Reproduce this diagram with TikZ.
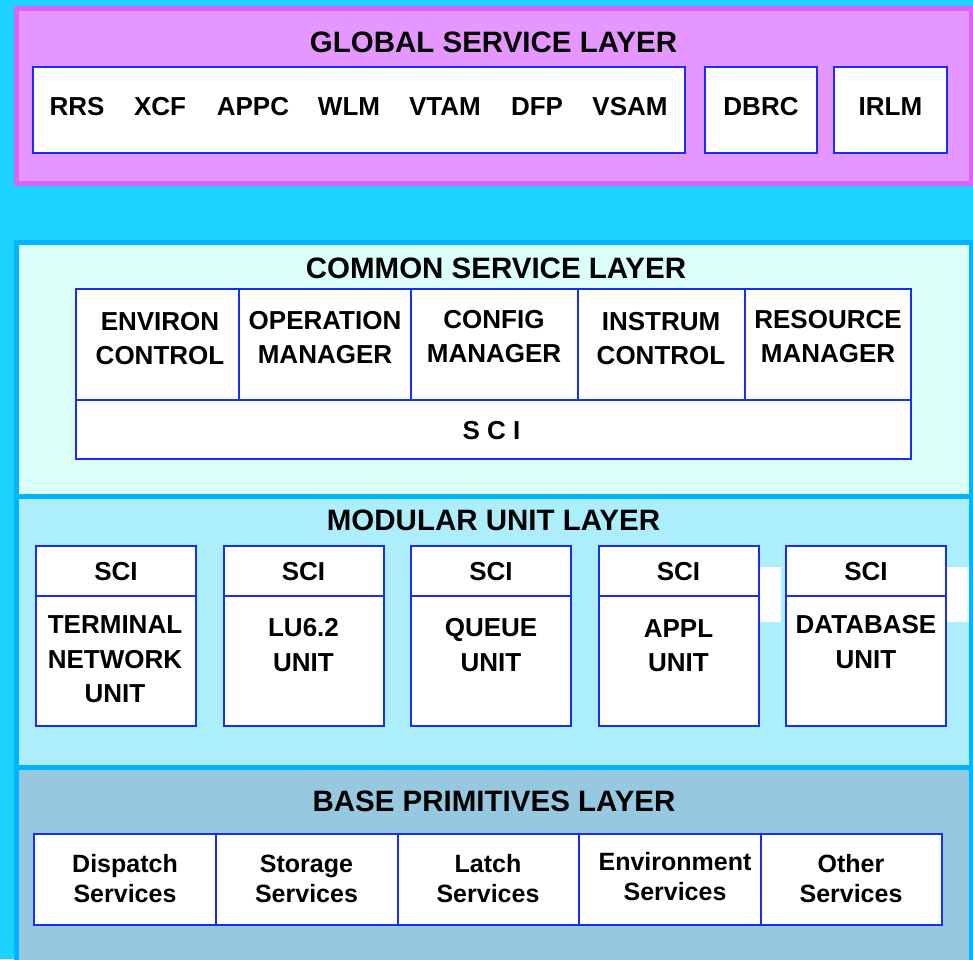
\documentclass[tikz,border=0pt]{standalone}
\usepackage{fontspec}
\setmainfont{Liberation Sans}
\definecolor{bgcyan}{RGB}{30,210,255}
\definecolor{globfill}{RGB}{230,150,255}
\definecolor{globedge}{RGB}{217,100,247}
\definecolor{comfill}{RGB}{220,255,250}
\definecolor{modfill}{RGB}{172,238,252}
\definecolor{basefill}{RGB}{150,200,224}
\definecolor{layeredge}{RGB}{0,180,255}
\definecolor{boxblue}{RGB}{25,45,250}
\begin{document}
\begin{tikzpicture}[x=1pt,y=-1pt,
  ttl/.style={font=\fontsize{29.5}{35}\selectfont\bfseries, inner sep=0pt},
  lbl/.style={font=\fontsize{26}{34}\selectfont\bfseries, align=center, inner sep=0pt},
  mlbl/.style={font=\fontsize{26}{34.5}\selectfont\bfseries, align=center, inner sep=0pt},
  svc/.style={font=\fontsize{25}{30}\selectfont\bfseries, align=center, inner sep=0pt},
  boxline/.style={draw=boxblue, line width=2pt},
  layerline/.style={draw=layeredge, line width=5pt},
]
\useasboundingbox (0,0) rectangle (973,959);
\fill[bgcyan] (0,0) rectangle (973,959);
% ---------- layer backgrounds ----------
\filldraw[fill=globfill, draw=globedge, line width=5pt] (16.5,8.5) rectangle (971,183.5);
\fill[comfill] (16.5,242.5) rectangle (971,496.5);
\fill[modfill] (16.5,496.5) rectangle (971,767.5);
\fill[basefill] (16.5,767.5) rectangle (971,965);
\fill[white] (758,567) rectangle (781,622);
\fill[white] (945,567) rectangle (971,622);
\draw[layerline] (16.5,965) -- (16.5,242.5) -- (971,242.5) -- (971,965);
\draw[layerline] (16.5,496.5) -- (971,496.5);
\draw[layerline] (16.5,767.5) -- (971,767.5);
% ---------- global service layer ----------
\node[ttl] (gtitle) at (493.5,42.5) {GLOBAL SERVICE LAYER};
\filldraw[boxline, fill=white] (33,67) rectangle (685,153);
\filldraw[boxline, fill=white] (705,67) rectangle (817,153);
\filldraw[boxline, fill=white] (834,67) rectangle (947,153);
\node[lbl] (rrs) at (77,106.5) {RRS};
\node[lbl] (xcf) at (160,106.5) {XCF};
\node[lbl] (appc) at (253,106.5) {APPC};
\node[lbl] (wlm) at (349,106.5) {WLM};
\node[lbl] (vtam) at (445,106.5) {VTAM};
\node[lbl] (dfp) at (537,106.5) {DFP};
\node[lbl] (vsam) at (630,106.5) {VSAM};
\node[lbl] (dbrc) at (761,106.5) {DBRC};
\node[lbl] (irlm) at (890.5,106.5) {IRLM};
% ---------- common service layer ----------
\node[ttl] (ctitle) at (496,268) {COMMON SERVICE LAYER};
\filldraw[boxline, fill=white] (76,289) rectangle (911,459);
\draw[boxline] (76,400) -- (911,400);
\foreach \xx in {238.5,411,577.5,744.5} \draw[boxline] (\xx,289) -- (\xx,400);
\node[lbl] (envc) at (160,338.5) {ENVIRON\\CONTROL};
\node[lbl] (opm) at (325,337.5) {OPERATION\\MANAGER};
\node[lbl] (cfgm) at (494,337) {CONFIG\\MANAGER};
\node[lbl] (insc) at (661,339) {INSTRUM\\CONTROL};
\node[lbl] (resm) at (828,337) {RESOURCE\\MANAGER};
\node[lbl] (csci) at (491.5,431) {S C I};
% ---------- modular unit layer ----------
\node[ttl] (mtitle) at (493.5,520) {MODULAR UNIT LAYER};
\foreach \xl in {36,223.5,411,598.5,786} {
  \filldraw[boxline, fill=white] (\xl,546) rectangle ({\xl+160},726);
  \draw[boxline] (\xl,596) -- ({\xl+160},596);
}
\node[lbl] (sci1) at (116,572) {SCI};
\node[lbl] (sci2) at (303.5,572) {SCI};
\node[lbl] (sci3) at (491,572) {SCI};
\node[lbl] (sci4) at (678.5,572) {SCI};
\node[lbl] (sci5) at (866,572) {SCI};
\node[mlbl] (term) at (115,659.5) {TERMINAL\\NETWORK\\UNIT};
\node[mlbl] (lu62) at (303.5,645) {LU6.2\\UNIT};
\node[mlbl] (queue) at (491,645) {QUEUE\\UNIT};
\node[mlbl] (appl) at (678.5,645.5) {APPL\\UNIT};
\node[mlbl] (dbu) at (866,642) {DATABASE\\UNIT};
% ---------- base primitives layer ----------
\node[ttl] (btitle) at (494,801) {BASE PRIMITIVES LAYER};
\filldraw[boxline, fill=white] (34,834) rectangle (942,925);
\foreach \xx in {216,397.5,579,760.5} \draw[boxline] (\xx,834) -- (\xx,925);
\node[svc] (disp) at (125,878.5) {Dispatch\\Services};
\node[svc] (stor) at (306.5,878.5) {Storage\\Services};
\node[svc] (latch) at (488,878.5) {Latch\\Services};
\node[svc] (envs) at (675,876.5) {Environment\\Services};
\node[svc] (oths) at (851,878.5) {Other\\Services};
\end{tikzpicture}
\end{document}
